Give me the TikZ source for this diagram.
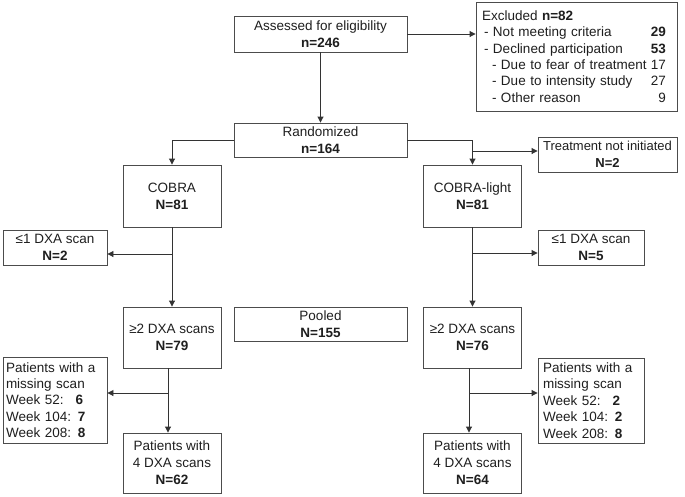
\documentclass[tikz,border=0pt]{standalone}
\usepackage{fontspec}
\setmainfont{Liberation Sans}
\usetikzlibrary{arrows.meta}
\newcommand{\exrow}[3]{\leavevmode\hbox to 184pt{\hspace{#1}#2\hfil #3}}
\newcommand{\wkrow}[2]{\leavevmode\rlap{#1}\hphantom{Week 104:} \textbf{#2}}
\begin{document}
\begin{tikzpicture}[x=1pt,y=-1pt,
  box/.style={draw=black!70, line width=0.9pt, fill=white, text=black!88, align=center,
    inner sep=0pt, font=\fontsize{13.5}{17}\selectfont},
  listbox/.style={box, align=left, inner ysep=0pt, font=\fontsize{13.5}{16.4}\selectfont},
  conn/.style={draw=black!80, line width=0.9pt},
  arr/.style={conn, -{Triangle[length=6pt,width=6pt]}}]
\useasboundingbox (0,0) rectangle (685,496);

% boxes
\node[box, minimum width=173pt, minimum height=36pt] (assess) at (320.5,34)
  {Assessed for eligibility\\\textbf{n=246}};
\node[listbox, inner xsep=6pt, text width=189pt, minimum height=109pt] (excl) at (576.5,56.5)
  {\exrow{0pt}{Excluded \textbf{n=82}}{}\\
   \exrow{2pt}{- Not meeting criteria}{\textbf{29}}\\
   \exrow{2pt}{- Declined participation}{\textbf{53}}\\
   \exrow{10pt}{- Due to fear of treatment}{17}\\
   \exrow{10pt}{- Due to intensity study}{27}\\
   \exrow{10pt}{- Other reason}{9}};
\node[box, minimum width=173pt, minimum height=34pt] (rand) at (320.5,140)
  {Randomized\\\textbf{n=164}};
\node[box, minimum width=139pt, minimum height=35pt, font=\fontsize{13}{17}\selectfont] (treat) at (607.5,154.5)
  {Treatment not initiated\\\textbf{N=2}};
\node[box, minimum width=98pt, minimum height=62pt] (cobra) at (172,196)
  {COBRA\\\textbf{N=81}};
\node[box, minimum width=98pt, minimum height=62pt] (light) at (472.5,196)
  {COBRA-light\\\textbf{N=81}};
\node[box, minimum width=104pt, minimum height=35pt] (le1) at (55,247.5)
  {≤1 DXA scan\\\textbf{N=2}};
\node[box, minimum width=106pt, minimum height=35pt] (re1) at (591,247.5)
  {≤1 DXA scan\\\textbf{N=5}};
\node[box, minimum width=98pt, minimum height=61pt] (dxa2l) at (172,337.5)
  {≥2 DXA scans\\\textbf{N=79}};
\node[box, minimum width=173pt, minimum height=34pt] (pooled) at (320.5,324)
  {Pooled\\\textbf{N=155}};
\node[box, minimum width=98pt, minimum height=61pt] (dxa2r) at (472.5,337.5)
  {≥2 DXA scans\\\textbf{N=76}};
\node[listbox, inner xsep=3pt, text width=98pt, minimum height=86pt] (missl) at (55,400)
  {Patients with a\\missing scan\\
   \wkrow{Week 52:}{6}\\
   Week 104: \textbf{7}\\
   Week 208: \textbf{8}};
\node[listbox, inner xsep=5pt, text width=96pt, minimum height=85pt] (missr) at (591,400.5)
  {Patients with a\\missing scan\\
   \wkrow{Week 52:}{2}\\
   Week 104: \textbf{2}\\
   Week 208: \textbf{8}};
\node[box, minimum width=98pt, minimum height=60pt] (fourl) at (172,463)
  {Patients with\\4 DXA scans\\\textbf{N=62}};
\node[box, minimum width=98pt, minimum height=60pt] (fourr) at (472.5,463)
  {Patients with\\4 DXA scans\\\textbf{N=64}};

% junction points
\coordinate (bt) at (472.5,151);
\coordinate (bl1) at (172,254);
\coordinate (br1) at (472.5,253);
\coordinate (tl2) at (168,368);
\coordinate (bl2) at (168,393);
\coordinate (tr2) at (469,368);
\coordinate (br2) at (469,393);

% connectors
\draw[arr] (assess.east) -- (assess.east -| excl.west);
\draw[arr] (assess.south) -- (rand.north);
\draw[arr] (rand.west) -| (cobra.north);
\draw[arr] (rand.east) -| (light.north);
\draw[arr] (bt) -- (bt -| treat.west);
\draw[arr] (cobra.south) -- (dxa2l.north);
\draw[arr] (bl1) -- (bl1 -| le1.east);
\draw[arr] (light.south) -- (dxa2r.north);
\draw[arr] (br1) -- (br1 -| re1.west);
\draw[arr] (tl2) -- (tl2 |- fourl.north);
\draw[arr] (bl2) -- (bl2 -| missl.east);
\draw[arr] (tr2) -- (tr2 |- fourr.north);
\draw[arr] (br2) -- (br2 -| missr.west);
\end{tikzpicture}
\end{document}
